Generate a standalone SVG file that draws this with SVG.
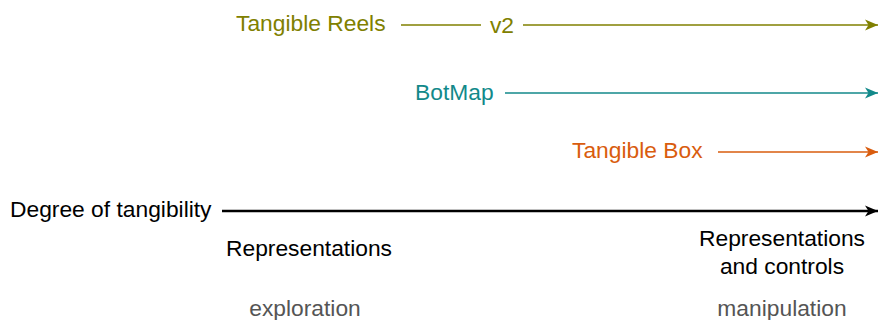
<svg xmlns="http://www.w3.org/2000/svg" width="878" height="320" viewBox="0 0 878 320">
<style>
text{font-family:"Liberation Sans",Arial,sans-serif;font-size:22.8px}
.ol{fill:#808000}.tl{fill:#12898a}.or{fill:#d95c0e}.bk{fill:#000}.gr{fill:#555}
line{stroke-width:1.6}
</style>
<defs>
<marker id="aO" markerUnits="userSpaceOnUse" markerWidth="14" markerHeight="12" refX="13" refY="6" orient="auto"><path d="M0,0.5 L13,6 L0,11.5 L3.5,6 z" fill="#808000"/></marker>
<marker id="aT" markerUnits="userSpaceOnUse" markerWidth="14" markerHeight="12" refX="13" refY="6" orient="auto"><path d="M0,0.5 L13,6 L0,11.5 L3.5,6 z" fill="#12898a"/></marker>
<marker id="aR" markerUnits="userSpaceOnUse" markerWidth="14" markerHeight="12" refX="13" refY="6" orient="auto"><path d="M0,0.5 L13,6 L0,11.5 L3.5,6 z" fill="#d95c0e"/></marker>
<marker id="aK" markerUnits="userSpaceOnUse" markerWidth="14" markerHeight="12" refX="13" refY="6" orient="auto"><path d="M0,0.5 L13,6 L0,11.5 L3.5,6 z" fill="#000"/></marker>
</defs>
<g id="connectors">
<line x1="401" y1="25" x2="481" y2="25" stroke="#808000"/>
<line x1="523" y1="25" x2="878" y2="25" stroke="#808000" marker-end="url(#aO)"/>
<line x1="505" y1="93" x2="878" y2="93" stroke="#12898a" marker-end="url(#aT)"/>
<line x1="718" y1="152" x2="878" y2="152" stroke="#d95c0e" marker-end="url(#aR)"/>
<line x1="222" y1="211" x2="878" y2="211" stroke="#000" style="stroke-width:2.5" marker-end="url(#aK)"/>
</g>
<g id="tangible-reels"><text x="236" y="31" class="ol">Tangible Reels</text></g>
<g id="v2"><text x="502" y="33" class="ol" text-anchor="middle">v2</text></g>
<g id="botmap"><text x="415" y="100" class="tl">BotMap</text></g>
<g id="tangible-box"><text x="572" y="158" class="or">Tangible Box</text></g>
<g id="degree"><text x="10" y="217" class="bk">Degree of tangibility</text></g>
<g id="representations"><text x="309" y="256" class="bk" text-anchor="middle">Representations</text></g>
<g id="representations-controls"><text x="782" y="246" class="bk" text-anchor="middle">Representations</text><text x="782" y="274" class="bk" text-anchor="middle">and controls</text></g>
<g id="exploration"><text x="305" y="316" class="gr" text-anchor="middle">exploration</text></g>
<g id="manipulation"><text x="782" y="316" class="gr" text-anchor="middle">manipulation</text></g>
</svg>
